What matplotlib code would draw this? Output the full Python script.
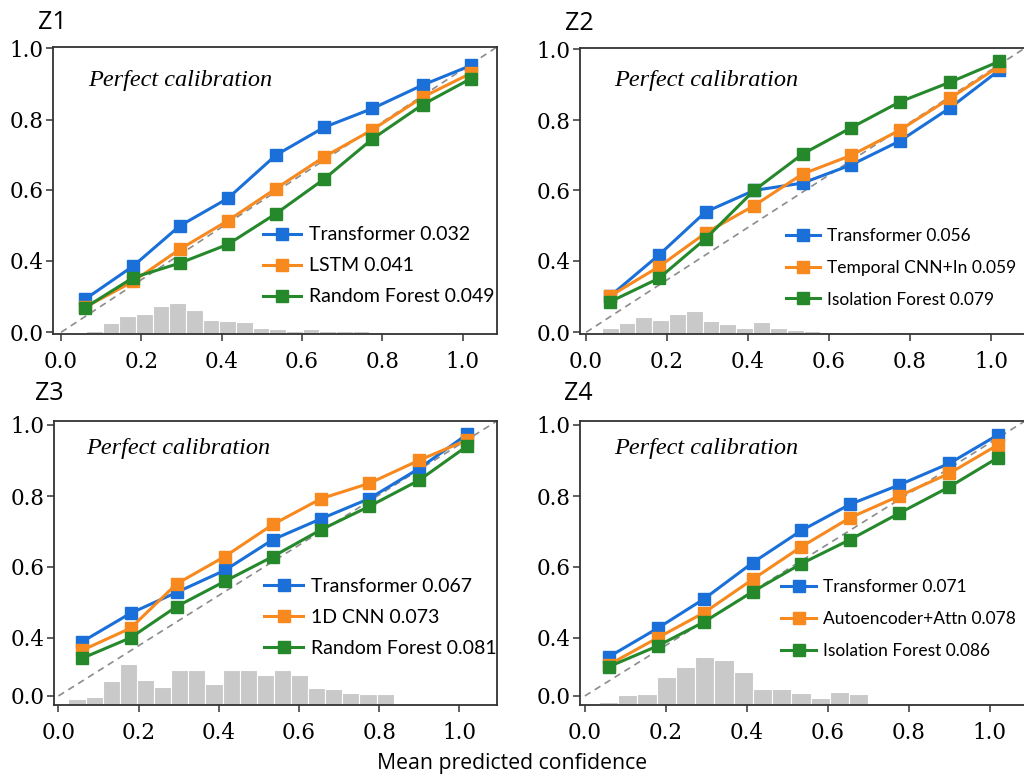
import numpy as np
import matplotlib
matplotlib.use("Agg")
import matplotlib.pyplot as plt

# reliability diagram values
x_bins = [0.06, 0.18, 0.295, 0.415, 0.535, 0.655, 0.775, 0.9, 1.02]

titles = ["Z1", "Z2", "Z3", "Z4"]

z1_labels = ["Transformer 0.032", "LSTM 0.041", "Random Forest 0.049"]
z1_blue = [0.185, 0.371, 0.498, 0.576, 0.699, 0.778, 0.831, 0.897, 0.952]
z1_orange = [0.14, 0.285, 0.432, 0.513, 0.604, 0.694, 0.771, 0.863, 0.93]
z1_green = [0.138, 0.306, 0.386, 0.446, 0.533, 0.631, 0.745, 0.842, 0.915]
z1_hist = [0.010, 0.040, 0.064, 0.068, 0.098, 0.108, 0.085, 0.049, 0.044, 0.042, 0.021,
           0.017, 0.010, 0.017, 0.012, 0.009, 0.009, 0.007, 0.003, 0.003, 0.003, 0.007]

z2_labels = ["Transformer 0.056", "Temporal CNN+In 0.059", "Isolation Forest 0.079"]
z2_blue = [0.204, 0.417, 0.539, 0.60, 0.621, 0.673, 0.741, 0.836, 0.941]
z2_orange = [0.204, 0.368, 0.479, 0.557, 0.647, 0.70, 0.772, 0.863, 0.952]
z2_green = [0.172, 0.303, 0.463, 0.60, 0.704, 0.779, 0.852, 0.908, 0.966]
z2_hist = [0.020, 0.037, 0.060, 0.049, 0.069, 0.081, 0.046, 0.034, 0.020, 0.042, 0.021,
           0.014, 0.009, 0.006, 0.004, 0.008, 0.004, 0.006, 0.005, 0.004, 0.003, 0.003]

z3_labels = ["Transformer 0.067", "1D CNN 0.073", "Random Forest 0.081"]
z3_blue = [0.374, 0.469, 0.528, 0.59, 0.677, 0.736, 0.793, 0.878, 0.974]
z3_orange = [0.315, 0.427, 0.552, 0.629, 0.72, 0.793, 0.836, 0.901, 0.958]
z3_green = [0.26, 0.40, 0.488, 0.559, 0.629, 0.705, 0.771, 0.845, 0.941]
z3_hist = [0.021, 0.028, 0.085, 0.144, 0.087, 0.064, 0.123, 0.123, 0.073, 0.123, 0.123,
           0.105, 0.123, 0.105, 0.061, 0.056, 0.044, 0.040, 0.037]

z4_labels = ["Transformer 0.071", "Autoencoder+Attn 0.078", "Isolation Forest 0.086"]
z4_blue = [0.27, 0.427, 0.51, 0.612, 0.703, 0.777, 0.831, 0.892, 0.972]
z4_orange = [0.216, 0.40, 0.471, 0.565, 0.657, 0.739, 0.80, 0.864, 0.944]
z4_green = [0.202, 0.344, 0.445, 0.53, 0.609, 0.677, 0.751, 0.826, 0.908]
z4_hist = [0.009, 0.035, 0.040, 0.099, 0.135, 0.168, 0.159, 0.115, 0.058, 0.058, 0.044,
           0.026, 0.047, 0.038, 0.008, 0.006, 0.008]

# histogram bins: first edge, bin width
hist_bins = [(0.062, 0.0415), (0.039, 0.0415), (0.025, 0.0427), (0.035, 0.0475)]

colors = ["#1a6fd8", "#f7891f", "#25892c"]


def make_scale(k):
    # y axis in the reference is not linear: 0-0.4 takes its own band
    lab = [-0.4, 0.0, 0.4, 0.6, 0.8, 1.0, 1.2]
    pos = [-k, 0.0, k, k + 70.7, k + 141, k + 212, k + 283]

    def fwd(y):
        return np.interp(y, lab, pos)

    def inv(p):
        return np.interp(p, pos, lab)
    return fwd, inv


def main():
    plt.rcParams["font.family"] = "DejaVu Serif"
    fig = plt.figure(figsize=(10.24, 7.78), dpi=100)

    W, H = 1024, 778
    # left, right, top, bottom in px
    boxes = [(53, 497, 47, 334), (580, 1025, 48, 334),
             (54, 497, 421, 705), (580, 1025, 421, 705)]
    rows = [71.5, 71.5, 58, 58]
    ylims = [(-0.0095, 1.004), (-0.0095, 1.004), (-0.062, 1.011), (-0.062, 1.011)]
    xlims = [(-0.02, 1.085), (-0.015, 1.084), (-0.011, 1.094), (-0.012, 1.087)]
    leg_pos = [(0.472, 0.375), (0.462, 0.372), (0.475, 0.447), (0.452, 0.444)]
    leg_size = [14, 12.5, 14, 12.5]
    leg_space = [0.72, 0.92, 0.72, 0.92]
    title_pos = [(-0.034, 1.062), (-0.033, 1.062), (-0.043, 1.075), (-0.037, 1.073)]
    text_pos = [(0.079, 0.885), (0.076, 0.885), (0.072, 0.904), (0.076, 0.904)]

    series = [
        (z1_labels, [z1_blue, z1_orange, z1_green], z1_hist),
        (z2_labels, [z2_blue, z2_orange, z2_green], z2_hist),
        (z3_labels, [z3_blue, z3_orange, z3_green], z3_hist),
        (z4_labels, [z4_blue, z4_orange, z4_green], z4_hist),
    ]

    for i, (labels, ys, hist) in enumerate(series):
        l, r, t, b = boxes[i]
        ax = fig.add_axes([l / W, 1 - b / H, (r - l) / W, (b - t) / H])
        ax.set_yscale("function", functions=make_scale(rows[i]))
        ax.set_xlim(*xlims[i])
        ax.set_ylim(*ylims[i])

        # confidence histogram on a hidden twin axis
        ax2 = ax.twinx()
        start, width = hist_bins[i]
        centers = start + width * (np.arange(len(hist)) + 0.5)
        ax2.bar(centers, hist, width=width, color="#c9c9c9", edgecolor="white", linewidth=0.8)
        ax2.set_ylim(0, 1)
        ax2.set_yticks([])
        for s in ax2.spines.values():
            s.set_visible(False)
        ax.set_zorder(ax2.get_zorder() + 1)
        ax.patch.set_visible(False)

        ax.plot([0, xlims[i][1]], [0, ylims[i][1]], ls=(0, (4, 3)), color="#8c8c8c",
                lw=1.2, zorder=1)

        for y, lab, c in zip(ys, labels, colors):
            ax.plot(x_bins, y, color=c, lw=2.2, marker="s", ms=9, label=lab, zorder=3)

        ax.text(*text_pos[i], "Perfect calibration", transform=ax.transAxes,
                family="Liberation Serif", style="italic", fontsize=17.5, va="center")
        ax.text(*title_pos[i], titles[i], transform=ax.transAxes, family="Open Sans",
                fontsize=18, va="baseline")

        ax.legend(loc="upper left", bbox_to_anchor=leg_pos[i], frameon=False,
                  borderpad=0, borderaxespad=0, handlelength=2.0, handletextpad=0.4,
                  labelspacing=leg_space[i], prop={"family": "Lato", "size": leg_size[i]})

        ax.set_xticks([0.0, 0.2, 0.4, 0.6, 0.8, 1.0])
        ax.set_yticks([0.0, 0.4, 0.6, 0.8, 1.0])
        ax.set_xticklabels(["0.0", "0.2", "0.4", "0.6", "0.8", "1.0"])
        ax.set_yticklabels(["0.0", "0.4", "0.6", "0.8", "1.0"])
        ax.minorticks_off()
        ax.tick_params(labelsize=15.5, length=5, width=1.1, color="#333333", pad=2)
        ax.tick_params(axis="x", pad=7)
        for s in ax.spines.values():
            s.set_color("#333333")
            s.set_linewidth(1.3)

    fig.text(0.5, 1 - 763 / H, "Mean predicted confidence", ha="center", va="center",
             family="Open Sans", fontsize=15.3)
    fig.savefig("out.png", dpi=100)


if __name__ == "__main__":
    main()
